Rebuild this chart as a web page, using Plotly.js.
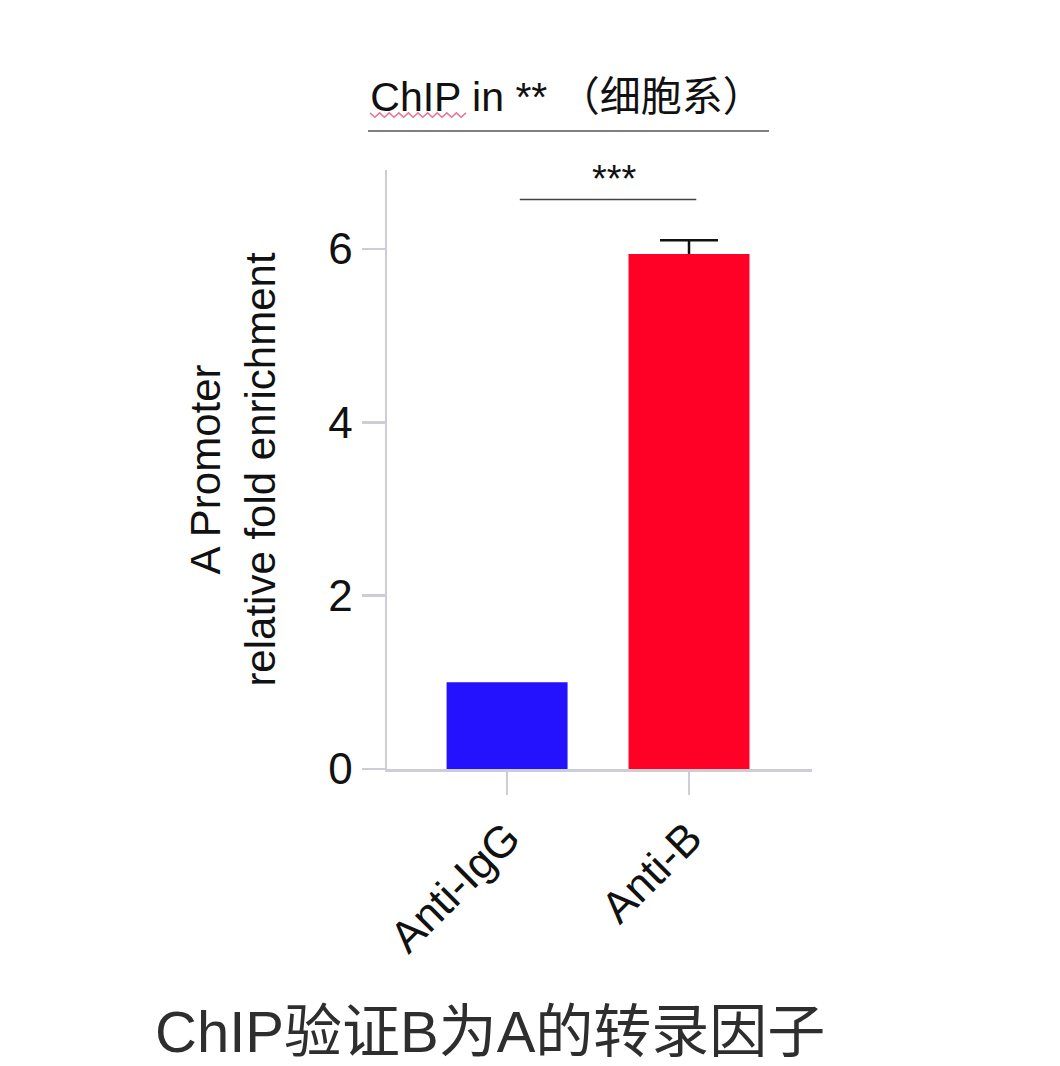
<!DOCTYPE html>
<html>
<head>
<meta charset="utf-8">
<script src="https://cdn.plot.ly/plotly-3.0.1.min.js"></script>
<style>html,body{margin:0;padding:0;background:#fff;}#chart{width:1060px;height:1066px;}</style>
</head>
<body>
<div id="chart"></div>
<script>
// ---- data ----
const categories = ["Anti-IgG", "Anti-B"];
const foldEnrichment = [1.0, 5.94];
const errorSEM = [0, 0.16];
const barColors = ["#2412ff", "#ff0026"];
const yTickValues = [0, 2, 4, 6];
const yTickLabels = ["0", "2", "4", "6"];
const significanceText = "***";
const significancePair = [0.07, 1.04];   // bracket span across the two categories
const significanceLevel = 6.57;
const titleText = "ChIP in ** （细胞系）";
const captionText = "ChIP验证B为A的转录因子";
const yTitleText = "A Promoter<br>relative fold enrichment";

// ---- layout helpers (pixel -> paper) ----
const W = 1060, H = 1066;
const L = 387, R = 812, T = 170, B = 769;
const px = x => (x - L) / (R - L);
const py = y => (B - y) / (B - T);

const FONT = "Liberation Sans, Arial, Noto Sans CJK SC, sans-serif";
const axisGrey = "#cdcdd6";

// error bars are carried by transparent bars drawn underneath, so that the
// coloured bar hides the lower half and only the upper whisker shows
const errorTraces = categories.map((c, i) => ({
  type: "bar",
  x: [c],
  y: [foldEnrichment[i]],
  width: 0.665,
  marker: {color: "rgba(0,0,0,0)", line: {width: 0}},
  error_y: errorSEM[i] > 0 ? {type: "data", array: [errorSEM[i]], visible: true,
    color: "#111", thickness: 2.5, width: 29} : {visible: false},
  showlegend: false,
  hoverinfo: "skip"
}));

const barTraces = categories.map((c, i) => ({
  type: "bar",
  x: [c],
  y: [foldEnrichment[i]],
  width: 0.665,
  marker: {color: barColors[i], line: {width: 0}},
  showlegend: false,
  hoverinfo: "x+y"
}));

// spell-check style squiggle under "ChIP" (decoration)
let wave = "";
{
  const x0 = 370, x1 = 466, yc = 115, amp = 2.2, step = 4.8;
  let up = true;
  for (let x = x0; x <= x1 + 0.01; x += step) {
    const y = yc + (up ? -amp : amp);
    wave += (x === x0 ? "M" : " L") + px(x).toFixed(4) + "," + py(y).toFixed(4);
    up = !up;
  }
}

const layout = {
  width: W, height: H,
  margin: {l: L, r: W - R, t: T, b: H - B},
  paper_bgcolor: "#fff",
  plot_bgcolor: "#fff",
  barmode: "overlay",
  font: {family: FONT, color: "#111"},
  title: {
    text: titleText,
    font: {family: FONT, size: 41, color: "#111"},
    xref: "container", x: 567 / W, xanchor: "center",
    yref: "container", y: 1 - 97 / H, yanchor: "middle"
  },
  xaxis: {
    type: "category",
    range: [-0.66, 1.676],
    showline: true, linecolor: axisGrey, linewidth: 2.5,
    ticks: "outside", ticklen: 23, tickwidth: 2.5, tickcolor: axisGrey,
    tickangle: -45,
    tickfont: {family: FONT, size: 44, color: "#111"},
    showgrid: false, zeroline: false, fixedrange: true
  },
  yaxis: {
    range: [0, 6.91],
    tickvals: yTickValues, ticktext: yTickLabels,
    showline: true, linecolor: axisGrey, linewidth: 2.5,
    ticks: "outside", ticklen: 23, tickwidth: 2.5, tickcolor: axisGrey,
    tickfont: {family: FONT, size: 44, color: "#111"},
    title: {text: yTitleText, font: {family: FONT, size: 42, color: "#111"}, standoff: 40},
    showgrid: false, zeroline: false, fixedrange: true
  },
  shapes: [
    {type: "line", xref: "paper", yref: "paper", x0: px(368), x1: px(769), y0: py(131), y1: py(131),
     line: {color: "#555", width: 1.5}},
    {type: "path", xref: "paper", yref: "paper", path: wave, line: {color: "#e27a96", width: 1.6}},
    {type: "line", xref: "x", yref: "y", x0: significancePair[0], x1: significancePair[1],
     y0: significanceLevel, y1: significanceLevel, line: {color: "#444", width: 1.5}}
  ],
  annotations: [
    {text: significanceText, xref: "x", yref: "y", x: (significancePair[0] + significancePair[1]) / 2 + 0.035,
     y: significanceLevel + 0.24, yanchor: "middle", showarrow: false,
     font: {family: FONT, size: 38, color: "#111"}},
    {text: captionText, xref: "paper", yref: "paper", x: px(490), y: py(1066), xanchor: "center", yanchor: "bottom",
     showarrow: false, font: {family: "Liberation Sans, Noto Sans CJK SC, sans-serif", size: 58, color: "#2e2e2e"}}
  ]
};

Plotly.newPlot("chart", errorTraces.concat(barTraces), layout, {displayModeBar: false, staticPlot: true});
</script>
</body>
</html>
